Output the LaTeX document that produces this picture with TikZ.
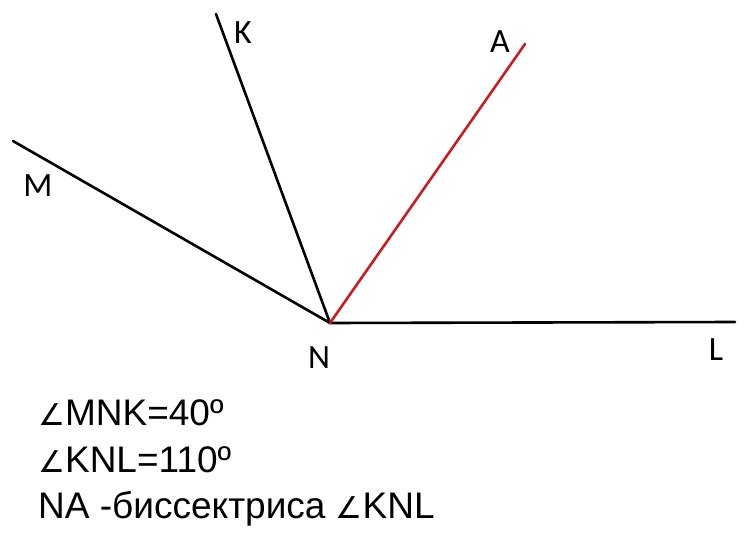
\documentclass[tikz,border=0pt]{standalone}
\usepackage{fontspec}
\setmainfont{Liberation Sans}
\newfontfamily\labelfont{Carlito}
\newfontfamily\symfont{DejaVu Sans}
\newcommand{\ang}{{\symfont\fontsize{30}{30}\selectfont\char"2220}}
\definecolor{bisectred}{RGB}{200,30,35}
\usetikzlibrary{positioning}

\begin{document}
\begin{tikzpicture}
          [ x=1pt, y=-1pt,
            ray/.style={
              draw,
              line width=2.6pt,
              line cap=round},
            bisector/.style={
              ray,
              draw=bisectred},
            point/.style={
              inner sep=0pt,
              font=\labelfont\fontsize{34}{34}\selectfont},
            given/.style={
              anchor=base west,
              inner sep=0pt,
              font=\fontsize{37}{37}\selectfont},
          ]

          \useasboundingbox (0,0) rectangle (747,548);

          \coordinate (n) at (330,323);
          \coordinate (k) at (216,14);
          \coordinate (m) at (13,141);
          \coordinate (a) at (525,44);
          \coordinate (l) at (735,322);

          \draw[ray] (n) -- (m);
          \draw[ray] (n) -- (k);
          \draw[ray] (n) -- (l);
          \draw[bisector] (n) -- (a);

          \node (klabel) [point] at (243,33) {K};
          \node (alabel) [point] at (500,42) {A};
          \node (mlabel) [point] at (38,186) {M};
          \node (nlabel) [point] at (319,358) {N};
          \node (llabel) [point] at (716,350) {L};

          \node (mnk) [given] at (38,425) {\ang MNK=40º};
          \node (knl) [given] at (38,472) {\ang KNL=110º};
          \node (na) [given] at (38,518) {NA -биссектриса \ang KNL};

        \end{tikzpicture}
\end{document}
